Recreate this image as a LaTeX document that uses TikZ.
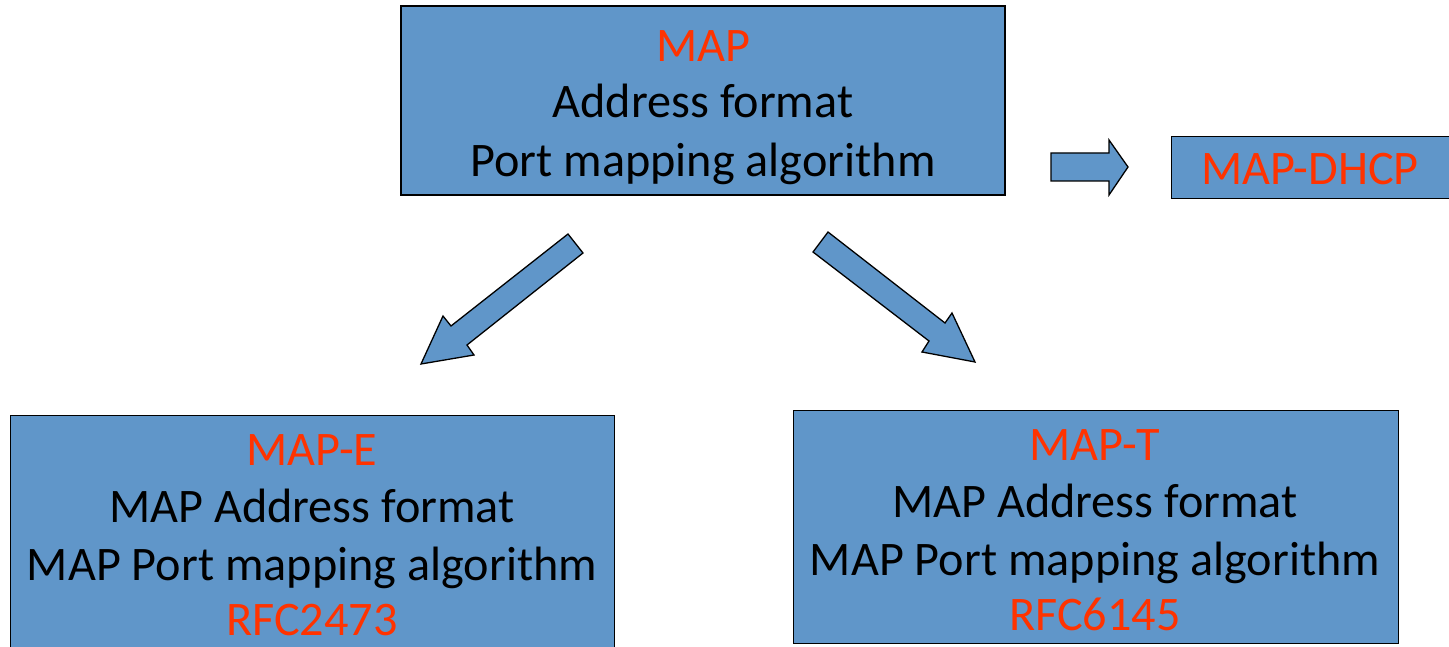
\documentclass[tikz,border=0pt]{standalone}
\usepackage{fontspec}
\setmainfont{Carlito}
\definecolor{boxblue}{RGB}{96,150,201}
\definecolor{hotred}{RGB}{255,51,0}
\tikzset{
  box/.style={draw=black, line width=1.3pt, fill=boxblue, inner sep=0pt},
  txt/.style={font=\fontsize{48.2}{58}\selectfont, text=black, inner sep=0pt, anchor=base},
  redtxt/.style={txt, text=hotred},
  blockarrow/.style={draw=black, line width=1.3pt, fill=boxblue, line join=miter},
}
\begin{document}
\begin{tikzpicture}[x=1pt, y=-1pt]
\useasboundingbox (0,0) rectangle (1449,647);
\clip (0,0) rectangle (1449,647);

% boxes
\node[box, minimum width=604pt, minimum height=189pt] (map) at (703,100.5) {};
\node[box, minimum width=284pt, minimum height=62pt, anchor=north west] (dhcp) at (1171,136) {};
\node[box, minimum width=604pt, minimum height=250pt, anchor=north west] (mape) at (10,415) {};
\node[box, minimum width=605pt, minimum height=233pt, anchor=north west] (mapt) at (793,410) {};

% MAP
\node[redtxt] (mapA) at (703,62) {MAP};
\node[txt] (mapB) at (703,118) {Address format};
\node[txt] (mapC) at (703,177) {Port mapping algorithm};

% MAP-DHCP
\node[redtxt] (dhcpA) at (1310,185) {MAP-DHCP};

% MAP-E
\node[redtxt] (mapeA) at (312,465) {MAP-E};
\node[txt] (mapeB) at (312,522) {MAP Address format};
\node[txt] (mapeC) at (312,580) {MAP Port mapping algorithm};
\node[redtxt] (mapeD) at (312,635) {RFC2473};

% MAP-T
\node[redtxt] (maptA) at (1095,460) {MAP-T};
\node[txt] (maptB) at (1095,517) {MAP Address format};
\node[txt] (maptC) at (1095,575) {MAP Port mapping algorithm};
\node[redtxt] (maptD) at (1095,630) {RFC6145};

% block arrow towards MAP-DHCP
\draw[blockarrow] (1051,153) -- (1109,153) -- (1109,140) -- (1128,167)
  -- (1109,195) -- (1109,181) -- (1051,181) -- cycle;

% block arrow towards MAP-E
\draw[blockarrow] (568,234) -- (583,253) -- (467,345) -- (474,355)
  -- (421,364) -- (443,316) -- (451,326) -- cycle;

% block arrow towards MAP-T
\draw[blockarrow] (828,232) -- (945,323) -- (952,313) -- (975,362)
  -- (922,352) -- (929,341) -- (813,252) -- cycle;
\end{tikzpicture}
\end{document}
